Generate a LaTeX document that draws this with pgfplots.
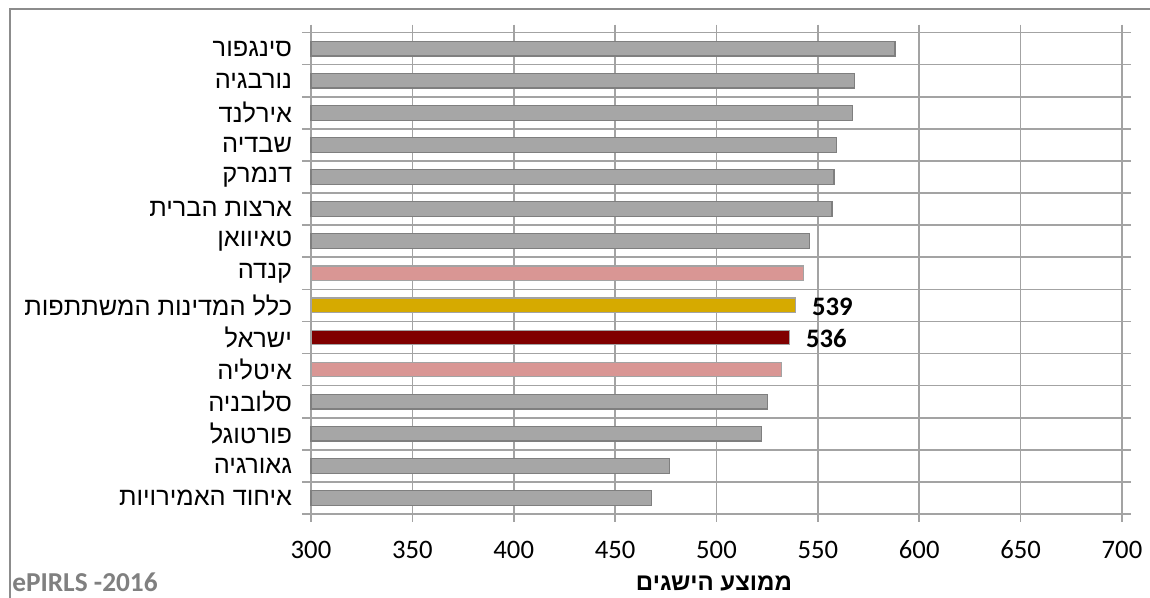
\documentclass[border=0pt]{standalone}
\usepackage{pgfplots}
\pgfplotsset{compat=1.18}
\usepackage{fontspec}
\TeXXeTstate=1
\setmainfont{Liberation Sans}
\newfontfamily\heb[Script=Hebrew]{Liberation Sans}
\newfontfamily\carl{Carlito}
\definecolor{gridgray}{HTML}{A3A3A3}
\definecolor{framegray}{HTML}{8C8C8C}
\definecolor{bargray}{HTML}{A6A6A6}
\definecolor{barborder}{HTML}{7F7F7F}
\definecolor{pinkbar}{HTML}{D99694}
\definecolor{goldbar}{HTML}{D6AA00}
\definecolor{redbar}{HTML}{800000}
\definecolor{epgray}{HTML}{808080}
\begin{document}
\begin{tikzpicture}[x=0.75pt,y=0.75pt]
\useasboundingbox (0,0) rectangle (1150,598);
\draw[framegray, line width=1.5pt] (9.5,0) -- (9.5,588.5) -- (1150,588.5);
\begin{axis}[
  at={(233.25pt,63pt)}, anchor=south west,
  scale only axis, width=608.25pt, height=361.1pt,
  xbar, bar shift=0pt, bar width=11pt,
  xmin=300, xmax=700,
  xtick={300,350,...,700},
  ymin=-0.5, ymax=14.5, y dir=reverse,
  ytick={0,...,14},
  yticklabels={{\heb\beginR סינגפור\endR},{\heb\beginR נורבגיה\endR},{\heb\beginR אירלנד\endR},{\heb\beginR שבדיה\endR},{\heb\beginR דנמרק\endR},{\heb\beginR ארצות הברית\endR},{\heb\beginR טאיוואן\endR},{\heb\beginR קנדה\endR},{\heb\beginR כלל המדינות המשתתפות\endR},{\heb\beginR ישראל\endR},{\heb\beginR איטליה\endR},{\heb\beginR סלובניה\endR},{\heb\beginR פורטוגל\endR},{\heb\beginR גאורגיה\endR},{\heb\beginR איחוד האמירויות\endR}},
  minor ytick={-0.5,0.5,...,14.5},
  yminorgrids=true, xmajorgrids=true,
  grid style={draw=gridgray, line width=1.2pt},
  minor grid style={draw=gridgray, line width=1.2pt},
  axis line style={draw=gridgray, line width=1.2pt},
  tick style={draw=gridgray, line width=1.2pt},
  tick align=outside,
  major tick length=6pt, minor tick length=6.75pt,
  every major y tick/.append style={draw=none},
  /pgf/number format/assume math mode=true,
  xticklabel style={font=\carl\fontsize{20}{22}\selectfont, yshift=-10.5pt},
  yticklabel style={font=\fontsize{19}{21}\selectfont, anchor=east, inner sep=0pt, xshift=-8pt},
  clip=false,
]
\addplot[fill=bargray, draw=barborder, line width=0.9pt] coordinates {
 (588,0) (568,1) (567,2) (559,3) (558,4) (557,5) (546,6)
 (525,11) (522,12) (477,13) (468,14)};
\addplot[fill=pinkbar, draw=gridgray, line width=0.9pt] coordinates {(543,7) (532,10)};
\addplot[fill=goldbar, draw=gridgray, line width=0.9pt,
  nodes near coords, every node near coord/.append style={font=\carl\bfseries\fontsize{20}{22}\selectfont, anchor=west, inner sep=0pt, xshift=12pt, yshift=-1pt}]
  coordinates {(539,8)};
\addplot[fill=redbar, draw=gridgray, line width=0.9pt,
  nodes near coords, every node near coord/.append style={font=\carl\bfseries\fontsize{20}{22}\selectfont, anchor=west, inner sep=0pt, xshift=12pt, yshift=-1pt}]
  coordinates {(536,9)};
\end{axis}
\node[font=\heb\bfseries\fontsize{18}{20}\selectfont, anchor=center] at (714,15) {\beginR ממוצע הישגים\endR};
\node[font=\carl\bfseries\fontsize{20.5}{22}\selectfont, text=epgray, anchor=west, inner sep=0pt] at (12,16) {ePIRLS -2016};
\end{tikzpicture}
\end{document}
